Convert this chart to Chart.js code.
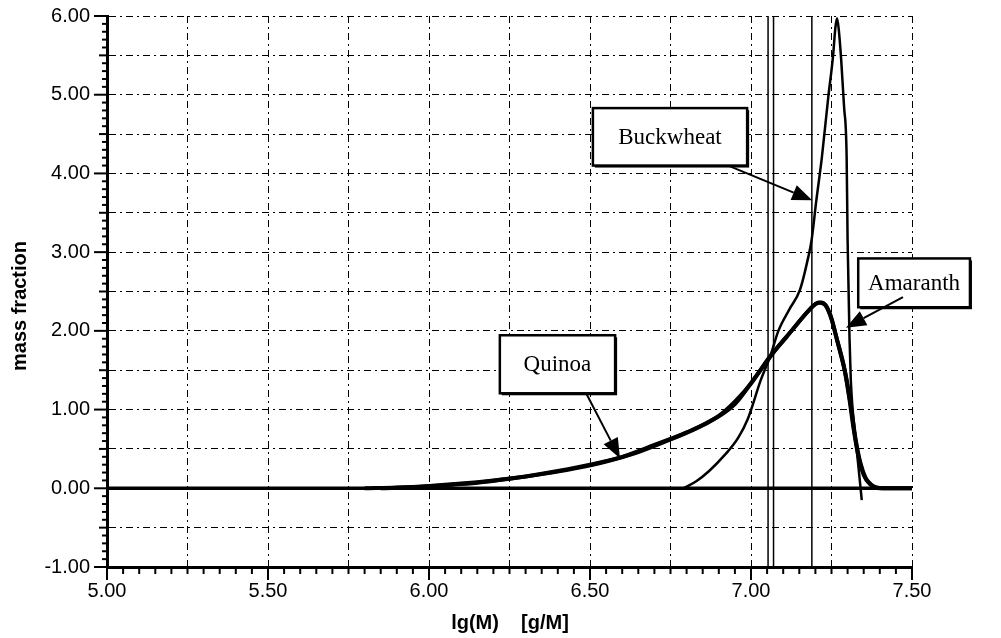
<!DOCTYPE html>
<html>
<head>
<meta charset="utf-8">
<script src="https://cdn.jsdelivr.net/npm/chart.js@4"></script>
<style>
  body { margin: 0; background: #fff; }
  canvas { display: block; }
</style>
</head>
<body>
<canvas id="myChart" width="1001" height="638"></canvas>
<script>
// data
const quinoaX = [5.80, 5.90, 6.00, 6.10, 6.20, 6.30, 6.40, 6.50, 6.60, 6.70, 6.80, 6.90, 6.95, 7.00, 7.06, 7.11, 7.16, 7.20, 7.22, 7.245, 7.265, 7.29, 7.305, 7.32, 7.335, 7.35, 7.37, 7.40, 7.50];
const quinoaY = [0, 0.01, 0.03, 0.06, 0.10, 0.15, 0.22, 0.30, 0.40, 0.55, 0.71, 0.92, 1.10, 1.33, 1.68, 1.92, 2.17, 2.34, 2.36, 2.22, 1.92, 1.52, 1.15, 0.72, 0.38, 0.17, 0.05, 0, 0];

const amaranthX = [5.85, 5.95, 6.05, 6.15, 6.25, 6.35, 6.45, 6.55, 6.65, 6.75, 6.85, 6.95, 7.02, 7.08, 7.13, 7.18, 7.21, 7.23, 7.25, 7.27, 7.295, 7.31, 7.325, 7.34, 7.355, 7.375, 7.41, 7.50];
const amaranthY = [0, 0.015, 0.04, 0.07, 0.12, 0.18, 0.25, 0.34, 0.46, 0.62, 0.80, 1.07, 1.45, 1.78, 2.02, 2.26, 2.36, 2.33, 2.15, 1.84, 1.42, 1.05, 0.62, 0.32, 0.14, 0.04, 0, 0];

const buckwheatX = [6.79, 6.83, 6.87, 6.92, 6.96, 6.99, 7.03, 7.06, 7.085, 7.12, 7.152, 7.178, 7.188, 7.203, 7.22, 7.24, 7.255, 7.262, 7.267, 7.272, 7.280, 7.289, 7.297, 7.300, 7.306, 7.31, 7.323, 7.333, 7.344];
const buckwheatY = [0, 0.09, 0.22, 0.43, 0.64, 0.88, 1.37, 1.68, 2.00, 2.28, 2.52, 2.94, 3.15, 3.66, 4.20, 4.97, 5.50, 5.85, 5.97, 5.85, 5.45, 4.85, 4.21, 3.15, 1.90, 1.37, 0.70, 0.30, -0.15];

const baselineX = [5.00, 7.50];
const baselineY = [0, 0];

const markerLines = [7.053, 7.070, 7.189];

const xLabelValues = [5.00, 5.50, 6.00, 6.50, 7.00, 7.50];
const yLabelValues = [-1.00, 0.00, 1.00, 2.00, 3.00, 4.00, 5.00, 6.00];

function pts(xs, ys) {
  return xs.map(function (v, i) { return { x: v, y: ys[i] }; });
}
function onStep(v, step) {
  const r = v / step;
  return Math.abs(r - Math.round(r)) < 1e-6;
}
function isLabel(v, list) {
  return list.some(function (l) { return Math.abs(l - v) < 1e-6; });
}

/* call-out boxes, in data units */
const notes = [
  { text: 'Buckwheat', box: [6.509, 4.83, 6.988, 4.10], from: [6.935, 4.09], to: [7.190, 3.66] },
  { text: 'Amaranth', box: [7.333, 2.92, 7.680, 2.30], from: [7.472, 2.43], to: [7.295, 2.04] },
  { text: 'Quinoa', box: [6.220, 1.944, 6.578, 1.207], from: [6.488, 1.207], to: [6.593, 0.38] },
];

const extras = {
  id: 'extras',
  afterDraw(chart) {
    const ctx = chart.ctx;
    const a = chart.chartArea;
    const x = chart.scales.x;
    const y = chart.scales.y;
    ctx.save();
    ctx.strokeStyle = '#000';
    ctx.fillStyle = '#000';
    ctx.lineWidth = 2;
    // tick marks
    x.ticks.forEach(function (t) {
      const px = x.getPixelForValue(t.value);
      const len = onStep(t.value, 0.5) ? 13 : 7;
      ctx.beginPath();
      ctx.moveTo(px, a.bottom);
      ctx.lineTo(px, a.bottom + len);
      ctx.stroke();
    });
    y.ticks.forEach(function (t) {
      const py = y.getPixelForValue(t.value);
      const len = onStep(t.value, 1) ? 13 : (onStep(t.value, 0.5) ? 8 : 5);
      ctx.beginPath();
      ctx.moveTo(a.left, py);
      ctx.lineTo(a.left - len, py);
      ctx.stroke();
    });

    // call-outs
    notes.forEach(function (n) {
      const l = x.getPixelForValue(n.box[0]);
      const t = y.getPixelForValue(n.box[1]);
      const r = x.getPixelForValue(n.box[2]);
      const b = y.getPixelForValue(n.box[3]);
      ctx.fillStyle = '#000';
      ctx.fillRect(l + 2, t + 2, r - l, b - t);
      ctx.fillStyle = '#fff';
      ctx.fillRect(l, t, r - l, b - t);
      ctx.lineWidth = 2.5;
      ctx.strokeRect(l, t, r - l, b - t);
      ctx.fillStyle = '#000';
      ctx.font = '23px "Liberation Serif", "Times New Roman", serif';
      ctx.textAlign = 'center';
      ctx.textBaseline = 'middle';
      ctx.fillText(n.text, (l + r) / 2, (t + b) / 2 + 1);

      const x1 = x.getPixelForValue(n.from[0]);
      const y1 = y.getPixelForValue(n.from[1]);
      const x2 = x.getPixelForValue(n.to[0]);
      const y2 = y.getPixelForValue(n.to[1]);
      const ang = Math.atan2(y2 - y1, x2 - x1);
      const hl = 20, hw = 8;
      ctx.lineWidth = 2;
      ctx.beginPath();
      ctx.moveTo(x1, y1);
      ctx.lineTo(x2 - hl * Math.cos(ang), y2 - hl * Math.sin(ang));
      ctx.stroke();
      ctx.beginPath();
      ctx.moveTo(x2, y2);
      ctx.lineTo(x2 - hl * Math.cos(ang) + hw * Math.sin(ang), y2 - hl * Math.sin(ang) - hw * Math.cos(ang));
      ctx.lineTo(x2 - hl * Math.cos(ang) - hw * Math.sin(ang), y2 - hl * Math.sin(ang) + hw * Math.cos(ang));
      ctx.closePath();
      ctx.fill();
    });

    // axis titles
    ctx.fillStyle = '#000';
    ctx.font = 'bold 20px "Liberation Sans", Arial, sans-serif';
    ctx.textAlign = 'center';
    ctx.textBaseline = 'middle';
    ctx.fillText('lg(M)    [g/M]', 510, 623);
    ctx.translate(20, 306);
    ctx.rotate(-Math.PI / 2);
    ctx.fillText('mass fraction', 0, 0);
    ctx.restore();
  },
};

const ctx = document.getElementById('myChart').getContext('2d');

const lineStyle = { showLine: true, pointRadius: 0, borderColor: '#000', backgroundColor: '#000', fill: false };

const datasets = [
  Object.assign({ label: 'baseline', data: pts(baselineX, baselineY), borderWidth: 3.5 }, lineStyle),
];
markerLines.forEach(function (v) {
  datasets.push(Object.assign({ label: 'marker', data: [{ x: v, y: -1 }, { x: v, y: 6 }], borderWidth: 1.5 }, lineStyle));
});
datasets.push(Object.assign({ label: 'Buckwheat', data: pts(buckwheatX, buckwheatY), borderWidth: 2.5, cubicInterpolationMode: 'monotone' }, lineStyle));
datasets.push(Object.assign({ label: 'Quinoa', data: pts(quinoaX, quinoaY), borderWidth: 4, cubicInterpolationMode: 'monotone' }, lineStyle));
datasets.push(Object.assign({ label: 'Amaranth', data: pts(amaranthX, amaranthY), borderWidth: 4, cubicInterpolationMode: 'monotone' }, lineStyle));

const tickFont = { family: '"Liberation Sans", Arial, sans-serif', size: 20 };

const chart = new Chart(ctx, {
  type: 'scatter',
  data: { datasets: datasets },
  options: {
    responsive: false,
    animation: false,
    layout: { padding: { top: 16, right: 89, left: 0, bottom: 0 } },
    plugins: {
      legend: { display: false },
      tooltip: { enabled: false },
    },
    scales: {
      x: {
        type: 'linear',
        min: 5,
        max: 7.5,
        afterFit: function (s) { s.height = 71; s.paddingLeft = 0; s.paddingRight = 0; },
        ticks: {
          stepSize: 0.05,
          autoSkip: false,
          maxRotation: 0,
          padding: 12,
          color: '#000',
          font: tickFont,
          callback: function (v) { return isLabel(v, xLabelValues) ? v.toFixed(2) : ''; },
        },
        grid: {
          drawTicks: false,
          lineWidth: 1,
          color: function (c) { return c.tick && onStep(c.tick.value, 0.25) ? '#000' : 'rgba(0,0,0,0)'; },
        },
        border: { display: true, color: '#000', width: 3, dash: [7, 4, 2, 4] },
      },
      y: {
        type: 'linear',
        min: -1,
        max: 6,
        afterFit: function (s) { s.width = 107; s.paddingTop = 0; s.paddingBottom = 0; },
        ticks: {
          stepSize: 0.1,
          autoSkip: false,
          padding: 17,
          color: '#000',
          font: tickFont,
          callback: function (v) { return isLabel(v, yLabelValues) ? v.toFixed(2) : ''; },
        },
        grid: {
          drawTicks: false,
          lineWidth: 1,
          color: function (c) { return c.tick && onStep(c.tick.value, 0.5) ? '#000' : 'rgba(0,0,0,0)'; },
        },
        border: { display: true, color: '#000', width: 3, dash: [7, 4, 2, 4] },
      },
    },
  },
  plugins: [extras],
});
</script>
</body>
</html>
